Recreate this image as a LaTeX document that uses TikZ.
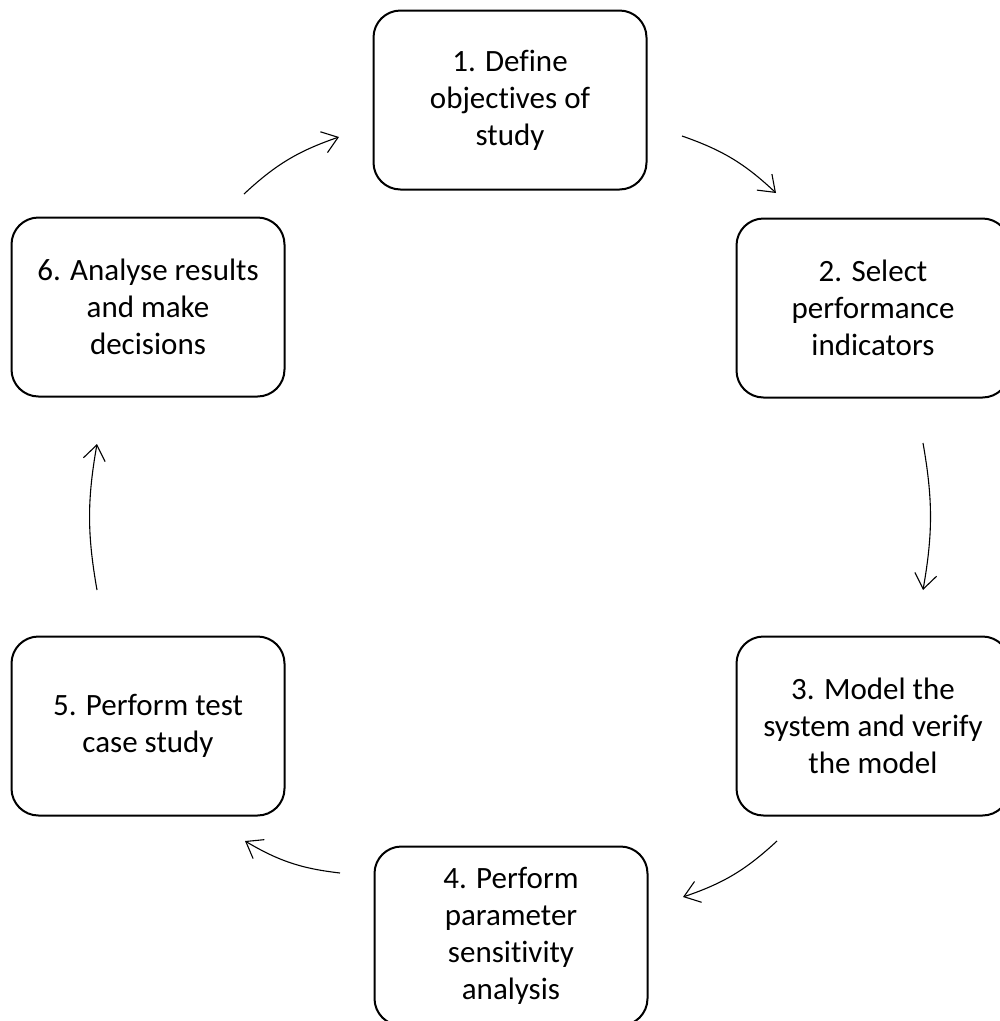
\documentclass[tikz,border=0pt]{standalone}
\usepackage{fontspec}
\setmainfont[Ligatures={NoCommon}]{Carlito}
\usetikzlibrary{arrows.meta}
\begin{document}
\begin{tikzpicture}[x=1pt,y=-1pt,
  stagebox/.style={draw=black, line width=2pt, rounded corners=27pt,
    minimum width=273pt, minimum height=179pt, align=center,
    font=\fontsize{31}{37}\selectfont, inner sep=0pt},
  flow/.style={line width=1.1pt, -{Straight Barb[length=15pt,width=22pt,line width=1.1pt]}}]
  \useasboundingbox (0,0) rectangle (1000,1021);
  \begin{scope}
    \clip (0,0) rectangle (1000,1021);
    \node[stagebox] (b1) at (510,100) {1. Define\\objectives of\\study};
    \node[stagebox] (b2) at (873,308) {2. Select\\performance\\indicators};
    \node[stagebox] (b3) at (873,726) {3. Model the\\system and verify\\the model};
    \node[stagebox] (b4) at (511,936) {4. Perform\\parameter\\sensitivity\\analysis};
    \node[stagebox] (b5) at (148,726) {5. Perform test\\case study};
    \node[stagebox] (b6) at (148,307) {6. Analyse results\\and make\\decisions};
  \end{scope}
  % free ends of the cycle arrows
  \coordinate (s61) at (244,194); \coordinate (e61) at (339,137);
  \coordinate (s12) at (682,136); \coordinate (e12) at (776,193);
  \coordinate (s23) at (923,443); \coordinate (e23) at (923,590);
  \coordinate (s34) at (777,841); \coordinate (e34) at (683,897);
  \coordinate (s45) at (340,873); \coordinate (e45) at (245,841);
  \coordinate (s56) at (97,590);  \coordinate (e56) at (97,444);
  \draw[flow] (s61) to[bend left=12] (e61);
  \draw[flow] (s12) to[bend left=12] (e12);
  \draw[flow] (s23) to[bend left=10] (e23);
  \draw[flow] (s34) to[bend left=12] (e34);
  \draw[flow] (s45) to[bend left=12] (e45);
  \draw[flow] (s56) to[bend left=10] (e56);
\end{tikzpicture}
\end{document}
